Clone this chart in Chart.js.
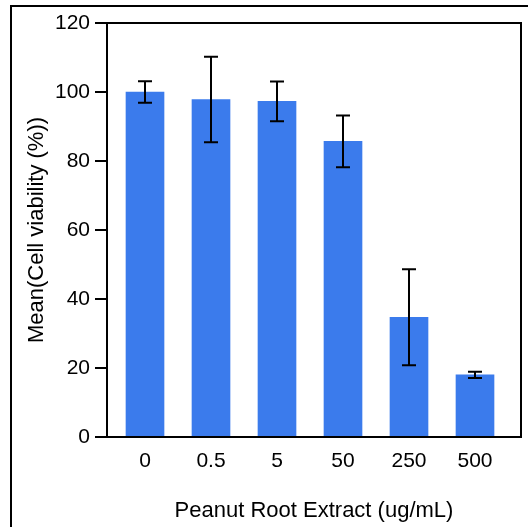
<!DOCTYPE html>
<html>
<head>
<meta charset="utf-8">
<script src="https://cdn.jsdelivr.net/npm/chart.js@4.4.1/dist/chart.umd.min.js"></script>
<style>
  html, body { margin: 0; padding: 0; background: #fff; overflow: hidden; }
  #wrap { position: relative; width: 528px; height: 527px; }
</style>
</head>
<body>
<div id="wrap"><canvas id="viabilityChart"></canvas></div>
<script>
// peanut root extract doses and mean cell viability with error
const doses = ['0', '0.5', '5', '50', '250', '500'];
const viability = [100.0, 97.8, 97.3, 85.7, 34.7, 18.0];
const viabilityErr = [3.1, 12.4, 5.75, 7.5, 13.9, 0.9];
const yTicks = [0, 20, 40, 60, 80, 100, 120];

const barColor = '#3b7bec';
const fontFamily = '"Liberation Sans", Arial, sans-serif';

// outer figure border plus the box around the plot
const frames = {
    id: 'frames',
    beforeDraw(chart) {
        const ctx = chart.ctx;
        ctx.save();
        ctx.strokeStyle = '#000';
        ctx.lineWidth = 2;
        ctx.beginPath();
        ctx.moveTo(11, chart.height + 2);
        ctx.lineTo(11, 6);
        ctx.lineTo(chart.width + 2, 6);
        ctx.stroke();
        ctx.restore();
    },
    afterDraw(chart) {
        const a = chart.chartArea;
        const ctx = chart.ctx;
        ctx.save();
        ctx.strokeStyle = '#000';
        ctx.lineWidth = 2;
        ctx.strokeRect(a.left, a.top, a.right - a.left, a.bottom - a.top);
        ctx.restore();
    }
};

// mean +/- error whiskers
const errorBars = {
    id: 'errorBars',
    afterDatasetsDraw(chart) {
        const ctx = chart.ctx;
        const x = chart.scales.x;
        const y = chart.scales.y;
        ctx.save();
        ctx.strokeStyle = '#000';
        ctx.lineWidth = 2;
        viability.forEach((v, i) => {
            const px = x.getPixelForValue(i);
            const top = y.getPixelForValue(v + viabilityErr[i]);
            const bot = y.getPixelForValue(v - viabilityErr[i]);
            ctx.beginPath();
            ctx.moveTo(px, top);
            ctx.lineTo(px, bot);
            ctx.moveTo(px - 7, top);
            ctx.lineTo(px + 7, top);
            ctx.moveTo(px - 7, bot);
            ctx.lineTo(px + 7, bot);
            ctx.stroke();
        });
        ctx.restore();
    }
};

const data = {
    datasets: [{
        data: viability.map((v, i) => ({ x: i, y: v })),
        backgroundColor: barColor,
        borderWidth: 0,
        barThickness: 38
    }]
};

const config = {
    type: 'bar',
    data: data,
    options: {
        responsive: true,
        maintainAspectRatio: false,
        animation: false,
        layout: { padding: { left: 0, top: 23, right: 7, bottom: 0 } },
        plugins: {
            legend: { display: false },
            tooltip: { enabled: false }
        },
        scales: {
            x: {
                type: 'linear',
                offset: false,
                min: -0.5758,
                max: 5.697,
                grid: { display: false, drawTicks: false },
                border: { display: false },
                ticks: {
                    stepSize: 1,
                    includeBounds: false,
                    autoSkip: false,
                    maxRotation: 0,
                    padding: 12,
                    color: '#000',
                    font: { family: fontFamily, size: 21 },
                    callback: (v) => Number.isInteger(v) ? doses[v] : null
                },
                title: {
                    display: true,
                    text: 'Peanut Root Extract (ug/mL)',
                    color: '#000',
                    font: { family: fontFamily, size: 22 },
                    padding: { top: 0, bottom: 3 }
                },
                afterFit(scale) { scale.height = 90; }
            },
            y: {
                min: 0,
                max: 120,
                afterBuildTicks(scale) { scale.ticks = yTicks.map(v => ({ value: v })); },
                grid: {
                    drawOnChartArea: false,
                    drawTicks: true,
                    tickLength: 12,
                    color: '#000',
                    lineWidth: 2
                },
                border: { display: false },
                ticks: {
                    padding: 5,
                    color: '#000',
                    font: { family: fontFamily, size: 21 }
                },
                title: {
                    display: true,
                    text: 'Mean(Cell viability (%))',
                    color: '#000',
                    font: { family: fontFamily, size: 22 },
                    padding: { top: 24, bottom: 0 }
                },
                afterFit(scale) { scale.width = 107; }
            }
        }
    },
    plugins: [frames, errorBars]
};

const myChart = new Chart(document.getElementById('viabilityChart'), config);
</script>
</body>
</html>
